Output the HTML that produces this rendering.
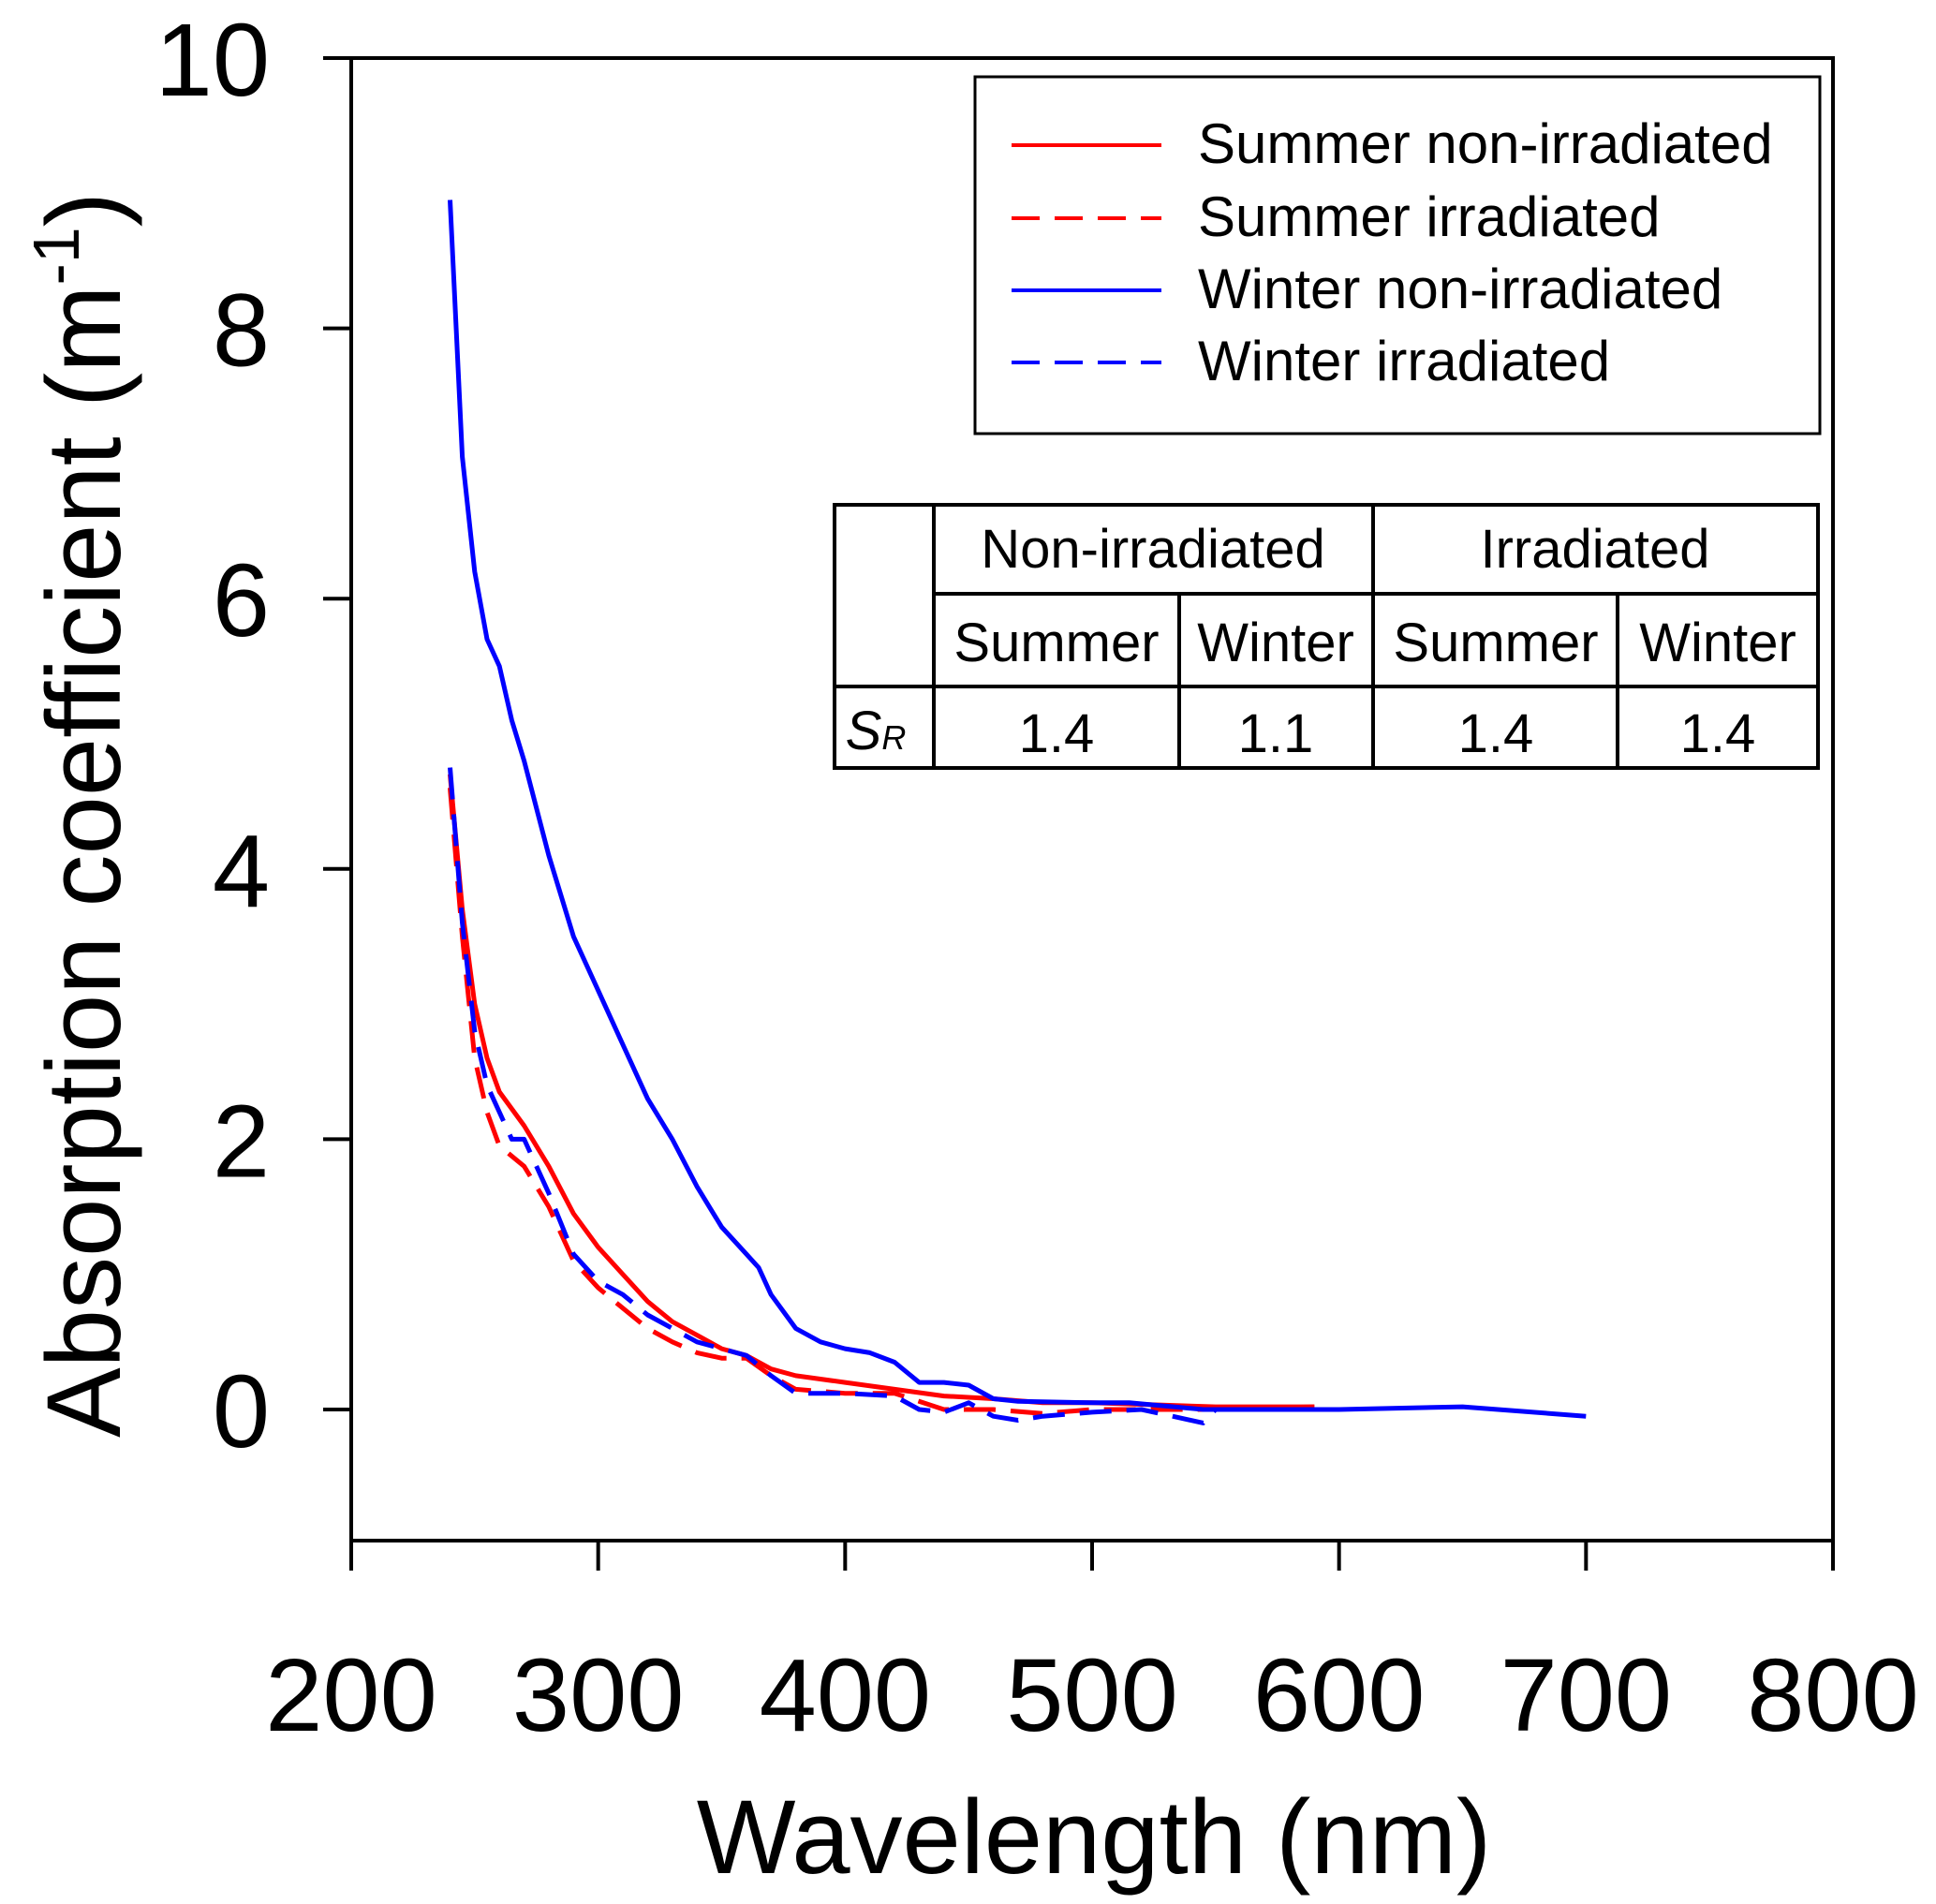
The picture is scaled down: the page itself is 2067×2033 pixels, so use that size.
<!DOCTYPE html>
<html><head><meta charset="utf-8">
<style>
html,body{margin:0;padding:0;background:#fff;}
svg{display:block;font-family:"Liberation Sans",Arial,sans-serif;}
</style></head>
<body>
<svg id="chart" width="2067" height="2033" viewBox="0 0 2067 2033" xmlns="http://www.w3.org/2000/svg">
<g id="plot"></g>
<g id="axes"></g>
<text x="1168" y="2000" font-size="112" text-anchor="middle" fill="#000">Wavelength (nm)</text>
<text transform="translate(128,870) rotate(-90)" font-size="112" text-anchor="middle" fill="#000">Absorption coefficient (m<tspan font-size="70" dy="-44">-1</tspan><tspan dy="44">)</tspan></text>
<g>
<rect x="1041" y="82" width="902" height="381" fill="#fff" stroke="#000" stroke-width="3"/>
<g><line x1="1080" y1="155" x2="1240" y2="155" stroke="#f00" stroke-width="4"/><text x="1279" y="174" font-size="60">Summer non-irradiated</text></g>
<g><line x1="1080" y1="233" x2="1240" y2="233" stroke="#f00" stroke-width="4" stroke-dasharray="30,16"/><text x="1279" y="252" font-size="60">Summer irradiated</text></g>
<g><line x1="1080" y1="310" x2="1240" y2="310" stroke="#00f" stroke-width="4"/><text x="1279" y="329" font-size="60">Winter non-irradiated</text></g>
<g><line x1="1080" y1="387" x2="1240" y2="387" stroke="#00f" stroke-width="4" stroke-dasharray="30,16"/><text x="1279" y="406" font-size="60">Winter irradiated</text></g>
</g>
<g stroke="#000" stroke-width="4" fill="none">
<rect x="891" y="539" width="1050" height="281"/>
<line x1="997" y1="539" x2="997" y2="820"/>
<line x1="1466" y1="539" x2="1466" y2="820"/>
<line x1="1259" y1="634" x2="1259" y2="820"/>
<line x1="1727" y1="634" x2="1727" y2="820"/>
<line x1="997" y1="634" x2="1941" y2="634"/>
<line x1="891" y1="733" x2="1941" y2="733"/>
</g>
<g font-size="58" text-anchor="middle" fill="#000">
<text x="1231" y="606">Non-irradiated</text>
<text x="1703" y="606">Irradiated</text>
<text x="1128" y="706">Summer</text>
<text x="1362" y="706">Winter</text>
<text x="1597" y="706">Summer</text>
<text x="1834" y="706">Winter</text>
<text x="935" y="800" font-style="italic">S<tspan font-size="36">R</tspan></text>
<text x="1128" y="803">1.4</text>
<text x="1362" y="803">1.1</text>
<text x="1597" y="803">1.4</text>
<text x="1834" y="803">1.4</text>
</g>
</svg>
<script>
const xTicks=[200,300,400,500,600,700,800];
const yTicks=[0,2,4,6,8,10];
const snWl=[240,245,250,255,260,270,280,290,300,310,320,330,340,350,360,370,380,400,420,440,460,480,500,550,590];
const snVal=[4.7,3.7,3.0,2.6,2.35,2.1,1.8,1.45,1.2,1.0,0.8,0.65,0.55,0.45,0.4,0.3,0.25,0.2,0.15,0.1,0.08,0.05,0.05,0.02,0.02];
const siWl=[240,245,250,255,260,270,280,290,300,310,320,330,340,350,360,370,380,400,420,440,460,480,500,550,590];
const siVal=[4.6,3.5,2.6,2.2,1.95,1.8,1.5,1.1,0.9,0.75,0.6,0.5,0.42,0.38,0.38,0.25,0.15,0.12,0.12,0.0,0.0,-0.03,0.0,0.0,0.02];
const wnWl=[240,245,250,255,260,265,270,280,290,300,310,320,330,340,350,360,365,370,380,390,400,410,420,430,440,450,460,470,500,515,545,550,600,650,700];
const wnVal=[8.95,7.05,6.2,5.7,5.5,5.1,4.8,4.1,3.5,3.1,2.7,2.3,2.0,1.65,1.35,1.15,1.05,0.85,0.6,0.5,0.45,0.42,0.35,0.2,0.2,0.18,0.08,0.06,0.05,0.05,0.0,0.0,0.0,0.02,-0.05];
const wiWl=[240,245,250,255,260,265,270,280,290,300,310,320,330,340,350,360,370,380,400,420,430,440,450,460,470,480,500,520,545,550];
const wiVal=[4.75,3.6,2.8,2.4,2.2,2.0,2.0,1.6,1.15,0.95,0.85,0.7,0.6,0.5,0.45,0.4,0.25,0.12,0.12,0.1,0.0,-0.02,0.05,-0.05,-0.08,-0.05,-0.02,0.0,-0.1,0.0];

const X0=375,X1=1957,Y0=1645,Y1=62;
function xs(v){return X0+(v-200)/600*(X1-X0);}
function ys(v){return 1505-v*144.3;}
const NS='http://www.w3.org/2000/svg';
const plot=document.getElementById('plot'),axes=document.getElementById('axes');
function mk(t,a,p){const e=document.createElementNS(NS,t);for(const k in a)e.setAttribute(k,a[k]);p.appendChild(e);return e;}
function series(wl,val,color,dash,name){
  const d=wl.map((w,i)=>(i?'L':'M')+xs(w).toFixed(1)+','+ys(val[i]).toFixed(1)).join('');
  const p=mk('path',{d:d,fill:'none',stroke:color,'stroke-width':5,'stroke-linejoin':'round'},plot);
  if(dash)p.setAttribute('stroke-dasharray','34,16');
  
  
}
series(snWl,snVal,'#f00',false,'line-summer-non-irradiated');
series(siWl,siVal,'#f00',true,'line-summer-irradiated');
series(wnWl,wnVal,'#00f',false,'line-winter-non-irradiated');
series(wiWl,wiVal,'#00f',true,'line-winter-irradiated');

const frame=mk('rect',{x:X0,y:Y1,width:X1-X0,height:Y0-Y1,fill:'none',stroke:'#000','stroke-width':4},axes);


xTicks.forEach(t=>{
  const l=mk('line',{x1:xs(t),x2:xs(t),y1:Y0,y2:Y0+32,stroke:'#000','stroke-width':4},axes);
  
  
  const tx=mk('text',{x:xs(t),y:1848,'font-size':110,'text-anchor':'middle'},axes);
  tx.textContent=t;
  
  
});
yTicks.forEach(t=>{
  const l=mk('line',{x1:X0-30,x2:X0,y1:ys(t),y2:ys(t),stroke:'#000','stroke-width':4},axes);
  
  
  const tx=mk('text',{x:288,y:ys(t)+40,'font-size':110,'text-anchor':'end'},axes);
  tx.textContent=t;
  
  
});
</script>
</body></html>
